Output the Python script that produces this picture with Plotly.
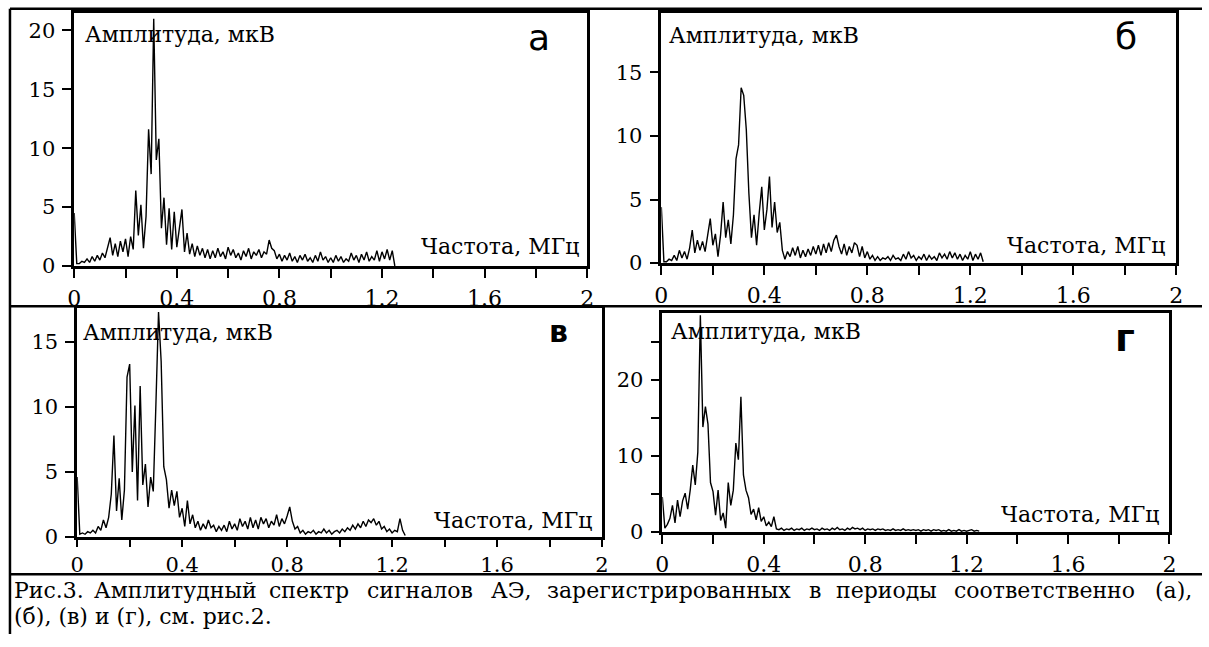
import plotly.graph_objects as go

# ---------------- data ----------------
# amplitude spectra, uV, sampled every 0.01 MHz from 0 to 1.25 MHz
amp_a = [4.5, 0.2, 0.2, 0.4, 0.3, 0.6, 0.3, 0.8, 0.4, 0.9,
         0.5, 1.1, 0.7, 1.5, 2.4, 0.9, 1.9, 0.8, 2.1, 1.2,
         2.3, 0.8, 2.5, 1.4, 6.4, 2.6, 5.2, 1.5, 4.2, 11.6,
         7.8, 21.0, 9.0, 10.8, 3.2, 5.8, 1.8, 4.9, 1.4, 4.6,
         1.6, 3.2, 4.8, 1.2, 2.8, 1.0, 1.9, 0.8, 1.7, 0.9,
         1.5, 0.7, 1.4, 0.6, 1.3, 0.7, 1.5, 0.8, 1.2, 0.6,
         1.6, 0.9, 1.4, 0.7, 1.1, 0.5, 1.3, 0.8, 1.5, 0.6,
         1.2, 0.9, 1.4, 0.7, 1.2, 1.0, 2.2, 1.5, 1.3, 0.6,
         1.0, 0.4, 0.9, 0.5, 1.1, 0.4, 0.8, 0.3, 0.9, 0.5,
         1.0, 0.4, 0.7, 0.3, 0.9, 0.4, 1.2, 0.5, 0.8, 0.3,
         0.7, 0.3, 0.9, 0.4, 0.8, 0.3, 0.6, 0.4, 1.1, 0.5,
         0.9, 0.3, 1.0, 0.5, 1.2, 0.4, 0.8, 0.5, 1.3, 0.4,
         1.2, 0.6, 1.4, 0.5, 1.3, 0.0]

amp_b = [4.4, 0.1, 0.1, 0.3, 0.2, 0.6, 0.2, 1.0, 0.4, 0.9,
         0.3, 1.2, 2.6, 0.8, 1.8, 1.0, 1.7, 0.9, 2.2, 3.5,
         1.4, 2.3, 0.5, 2.2, 4.8, 2.0, 3.4, 1.5, 3.8, 8.2,
         9.3, 13.8, 13.2, 10.5, 5.5, 2.0, 3.8, 1.4, 3.9, 6.0,
         2.6, 4.2, 6.8, 2.8, 4.8, 2.4, 3.2, 1.0, 0.3, 0.9,
         0.5, 1.2, 0.6, 1.3, 0.4, 1.0, 0.5, 1.1, 0.6, 1.3,
         0.7, 1.4, 0.6, 1.5, 0.8, 1.6, 0.9, 1.8, 2.2, 1.3,
         0.7, 1.5, 0.6, 1.3, 0.8, 1.6, 1.4, 0.5, 1.3, 0.4,
         0.9, 0.3, 0.6, 0.2, 0.5, 0.2, 0.4, 0.3, 0.5, 0.2,
         0.6, 0.3, 0.4, 0.2, 0.7, 0.3, 0.9, 0.4, 0.6, 0.2,
         0.5, 0.3, 0.7, 0.2, 0.6, 0.3, 0.5, 0.2, 0.8, 0.4,
         0.7, 0.3, 0.9, 0.4, 0.8, 0.3, 0.7, 0.2, 0.6, 0.3,
         0.9, 0.2, 0.7, 0.3, 0.8, 0.1]

amp_c = [4.6, 0.2, 0.3, 0.2, 0.4, 0.3, 0.5, 0.3, 0.8, 0.5,
         1.3, 0.7, 1.5, 3.3, 7.8, 2.0, 4.5, 1.3, 3.6, 12.3,
         13.3, 5.0, 10.1, 2.8, 11.6, 4.0, 5.6, 2.3, 4.6, 3.5,
         10.2, 17.3, 13.5, 5.4, 4.4, 2.2, 3.6, 2.4, 3.5, 1.5,
         2.2, 0.8, 2.8, 1.0, 1.7, 0.7, 1.2, 0.5, 1.0, 0.6,
         1.3, 0.7, 0.9, 0.4, 0.8, 0.5, 0.9, 0.4, 1.2, 0.6,
         1.0, 0.5, 1.4, 0.8, 1.2, 0.6, 1.5, 0.7, 1.3, 0.6,
         1.5, 1.0, 1.4, 0.7, 1.2, 0.9, 1.7, 0.8, 1.4, 1.0,
         1.6, 2.3, 1.2, 0.6, 0.8, 0.3, 0.5, 0.2, 0.4, 0.3,
         0.5, 0.2, 0.4, 0.3, 0.6, 0.3, 0.5, 0.2, 0.4, 0.5,
         0.3, 0.6, 0.4, 0.7, 0.5, 0.9, 0.6, 1.0, 0.7, 1.2,
         0.8, 1.3, 1.1, 1.4, 0.9, 1.2, 0.6, 0.8, 0.4, 0.6,
         0.3, 0.5, 0.4, 1.4, 0.5, 0.1]

amp_d = [4.6, 0.5, 1.0, 1.8, 3.5, 1.2, 4.2, 2.0, 4.1, 5.1,
         3.0, 5.5, 8.8, 6.2, 10.5, 28.5, 13.8, 16.5, 14.2, 6.5,
         5.3, 2.2, 5.5, 1.5, 2.5, 0.5, 6.5, 3.5, 5.5, 11.7,
         9.5, 17.8, 7.5, 5.5, 4.5, 2.3, 3.0, 1.6, 3.2, 1.4,
         2.0, 0.8, 1.3, 0.7, 2.0, 0.4, 0.3, 0.5, 0.2, 0.4,
         0.3, 0.5, 0.2, 0.4, 0.3, 0.5, 0.2, 0.4, 0.3, 0.5,
         0.3, 0.4, 0.2, 0.5, 0.3, 0.4, 0.2, 0.5, 0.3, 0.6,
         0.3, 0.4, 0.2, 0.5, 0.3, 0.6, 0.4, 0.5, 0.3, 0.5,
         0.2, 0.4, 0.3, 0.4, 0.2, 0.4, 0.3, 0.4, 0.2, 0.3,
         0.2, 0.4, 0.2, 0.3, 0.2, 0.4, 0.2, 0.3, 0.2, 0.3,
         0.2, 0.3, 0.1, 0.3, 0.2, 0.3, 0.1, 0.3, 0.2, 0.3,
         0.1, 0.2, 0.1, 0.3, 0.1, 0.2, 0.1, 0.3, 0.1, 0.2,
         0.1, 0.2, 0.3, 0.1, 0.2, 0.1]

freq_step = 0.01  # MHz

x_tick_vals = [0, 0.2, 0.4, 0.6, 0.8, 1.0, 1.2, 1.4, 1.6, 1.8, 2.0]
x_tick_text = ["0", "", "0.4", "", "0.8", "", "1.2", "", "1.6", "", "2"]

y_ticks_a = [0, 5, 10, 15, 20]
y_text_a = ["0", "5", "10", "15", "20"]
y_ticks_b = [0, 5, 10, 15]
y_text_b = ["0", "5", "10", "15"]
y_ticks_c = [0, 5, 10, 15]
y_text_c = ["0", "5", "10", "15"]
y_ticks_d = [0, 5, 10, 15, 20, 25]
y_text_d = ["0", "", "10", "", "20", ""]

panel_letters = ["а", "б", "в", "г"]
y_label = "Амплитуда, мкВ"
x_label = "Частота, МГц"
caption_line1 = ["Рис.3.", "Амплитудный", "спектр", "сигналов", "АЭ,",
                 "зарегистрированных", "в", "периоды", "соответственно", "(а),"]
caption_line2 = "(б), (в) и (г), см. рис.2."

# ---------------- layout helpers ----------------
W, H = 1209, 647
SERIF = "DejaVu Serif"
SANS = "DejaVu Sans"
CAP_SIZE = 22


def fx(px):
    return px / W


def fy(py):
    return 1 - py / H


def est_width(word, size):
    """rough DejaVu Serif advance width of a word, in px"""
    w = 0.0
    for ch in word:
        if ch in ".,":
            w += 0.32
        elif ch in "()":
            w += 0.39
        elif ch.isdigit():
            w += 0.636
        elif ch.isupper():
            w += 0.74
        else:
            w += 0.62
    return w * size


panels = [
    dict(amp=amp_a, box=(68, 587, 13, 271), ymax=21.5, yt=(y_ticks_a, y_text_a),
         letter=(538, 38, 36, False), ylab=(77, 35), xlab=(581, 251),
         xstand=2, xlen=9, xfont=22),
    dict(amp=amp_b, box=(662, 1183, 13, 268), ymax=19.7, yt=(y_ticks_b, y_text_b),
         letter=(1132, 37, 36, False), ylab=(668, 36), xlab=(1174, 250),
         xstand=2, xlen=9, xfont=22),
    dict(amp=amp_c, box=(71, 602, 314, 547), ymax=17.6, yt=(y_ticks_c, y_text_c),
         letter=(558, 338, 30, True), ylab=(75, 339), xlab=(594, 530),
         xstand=0, xlen=7, xfont=21),
    dict(amp=amp_d, box=(663, 1176, 319, 542), ymax=28.8, yt=(y_ticks_d, y_text_d),
         letter=(1131, 344, 38, True), ylab=(670, 338), xlab=(1168, 524),
         xstand=2, xlen=9, xfont=22),
]

fig = go.Figure()
annotations = []

for i, p in enumerate(panels):
    n = i + 1
    xa = "x" if n == 1 else f"x{n}"
    ya = "y" if n == 1 else f"y{n}"
    amp = p["amp"]
    freq = [round(k * freq_step, 2) for k in range(len(amp))]
    fig.add_trace(go.Scatter(x=freq, y=amp, mode="lines", xaxis=xa, yaxis=ya,
                             line=dict(color="black", width=1.4), showlegend=False,
                             hoverinfo="skip"))
    l, r, t, b = p["box"]
    common = dict(showline=True, linecolor="black", linewidth=2.5, mirror=True,
                  ticks="outside", tickwidth=2, tickcolor="black",
                  showgrid=False, zeroline=False, fixedrange=True)
    fig.update_layout(**{
        ("xaxis" if n == 1 else f"xaxis{n}"): dict(
            domain=[fx(l), fx(r)], range=[0, 2], anchor=ya, ticklen=p["xlen"],
            tickvals=x_tick_vals, ticktext=x_tick_text, ticklabelstandoff=p["xstand"],
            tickfont=dict(family=SERIF, size=p["xfont"], color="black"), **common),
        ("yaxis" if n == 1 else f"yaxis{n}"): dict(
            domain=[fy(b), fy(t)], range=[0, p["ymax"]], anchor=xa, ticklen=9,
            tickvals=p["yt"][0], ticktext=p["yt"][1], ticklabelstandoff=3,
            tickfont=dict(family=SERIF, size=21, color="black"), **common),
    })
    lx, ly, ls, lb = p["letter"]
    annotations.append(dict(x=fx(lx), y=fy(ly), xref="paper", yref="paper",
                            text=(f"<b>{panel_letters[i]}</b>" if lb else panel_letters[i]),
                            showarrow=False, xanchor="center", yanchor="middle",
                            font=dict(family=SANS, size=ls, color="black")))
    annotations.append(dict(x=fx(p["ylab"][0]), y=fy(p["ylab"][1]), xref="paper", yref="paper",
                            text=y_label, showarrow=False, xanchor="left", yanchor="middle",
                            font=dict(family=SERIF, size=22, color="black")))
    annotations.append(dict(x=fx(p["xlab"][0]), y=fy(p["xlab"][1]), xref="paper", yref="paper",
                            text=x_label, showarrow=False, xanchor="right", yanchor="middle",
                            font=dict(family=SERIF, size=22, color="black")))

# caption, line 1 justified across the full width (x 5 .. 1201)
widths = [est_width(w, CAP_SIZE) for w in caption_line1]
gap = (1196 - sum(widths)) / (len(caption_line1) - 1)
start = 5.0
for k, (w, wpx) in enumerate(zip(caption_line1, widths)):
    if k == 0:
        xpos, anchor = 5, "left"
    elif k == len(caption_line1) - 1:
        xpos, anchor = 1201, "right"
    else:
        xpos, anchor = start + wpx / 2, "center"
    annotations.append(dict(x=fx(xpos), y=fy(602), xref="paper", yref="paper",
                            text=w, showarrow=False, xanchor=anchor, yanchor="middle",
                            font=dict(family=SERIF, size=CAP_SIZE, color="black")))
    start += wpx + gap
annotations.append(dict(x=fx(5), y=fy(628), xref="paper", yref="paper",
                        text=caption_line2, showarrow=False, xanchor="left", yanchor="middle",
                        font=dict(family=SERIF, size=CAP_SIZE, color="black")))

# table rules
shapes = []
for (x0, y0, x1, y1) in [(3, 9, W, 9), (3, 312, W, 312), (3, 585, W, 585), (3, 9, 3, H - 1)]:
    shapes.append(dict(type="line", xref="paper", yref="paper",
                       x0=fx(x0), y0=fy(y0), x1=fx(x1), y1=fy(y1),
                       line=dict(color="black", width=2.5)))

fig.update_layout(width=W, height=H, margin=dict(l=0, r=0, t=0, b=0),
                  paper_bgcolor="white", plot_bgcolor="white",
                  annotations=annotations, shapes=shapes, showlegend=False)

fix_page = (
    "var h=document.documentElement,b=document.body;"
    "h.style.overflow='hidden';b.style.margin='0';b.style.padding='0';b.style.overflow='hidden';"
)
fig.write_html("out.html", config={"displayModeBar": False}, post_script=fix_page)
